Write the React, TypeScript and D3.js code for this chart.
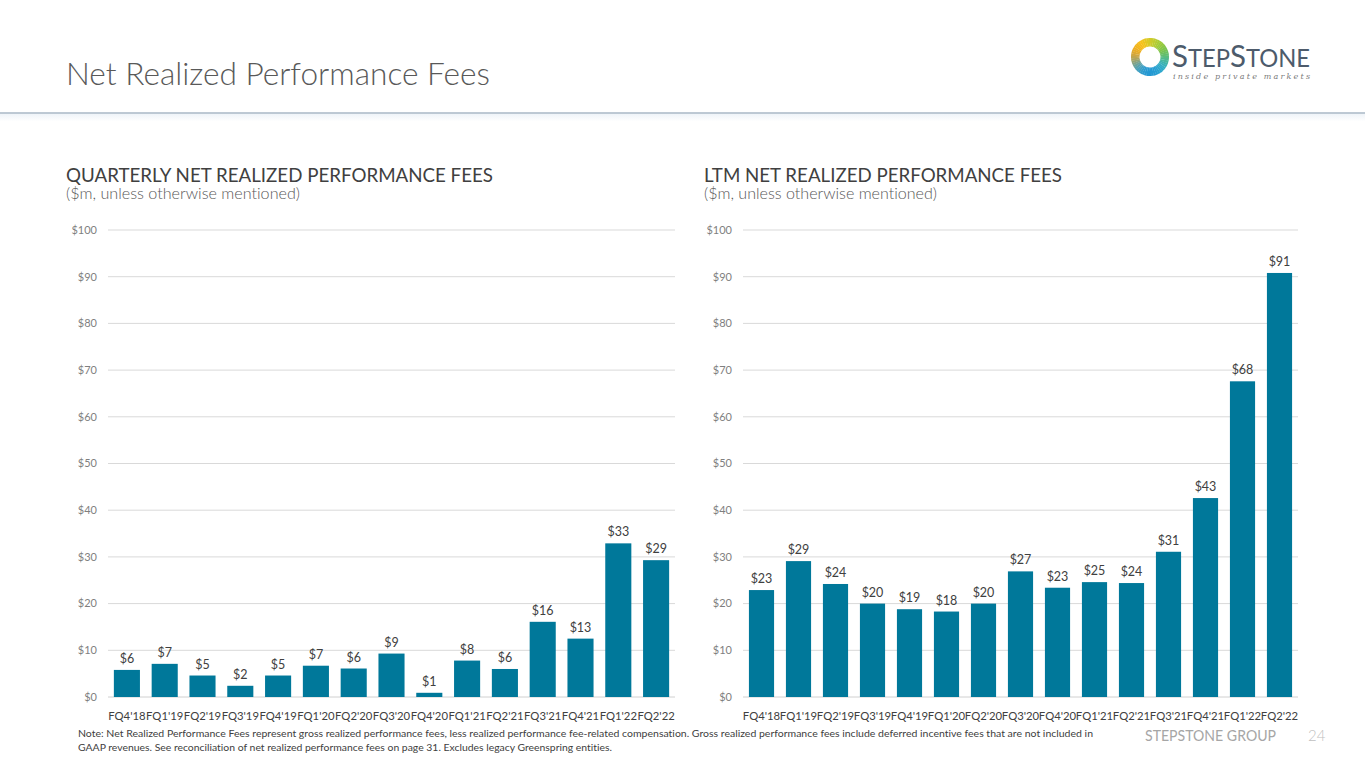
import React from "react";
import * as d3 from "d3";

const categories = ["FQ4'18", "FQ1'19", "FQ2'19", "FQ3'19", "FQ4'19", "FQ1'20", "FQ2'20", "FQ3'20", "FQ4'20", "FQ1'21", "FQ2'21", "FQ3'21", "FQ4'21", "FQ1'22", "FQ2'22"];
const quarterlyValues = [5.8, 7.1, 4.6, 2.4, 4.6, 6.7, 6.1, 9.3, 0.9, 7.8, 6.0, 16.1, 12.5, 32.9, 29.3];
const ltmValues = [22.9, 29.1, 24.2, 20.0, 18.8, 18.3, 20.0, 26.9, 23.4, 24.6, 24.4, 31.1, 42.6, 67.6, 90.8];
const yTicks = [0, 10, 20, 30, 40, 50, 60, 70, 80, 90, 100];

const FONT = "Lato, 'Open Sans', sans-serif";
const BAR = "#00789a";

type ChartProps = { values: number[]; x0: number; x1: number; padding: number };

function BarChart({ values, x0, x1, padding }: ChartProps) {
  const x = d3.scaleBand<string>().domain(categories).range([x0, x1]).paddingInner(padding).paddingOuter(padding / 2);
  const y = d3.scaleLinear().domain([0, 100]).range([697, 230]);
  return (
    <g>
      {yTicks.map((t) => (
        <g key={t}>
          <line x1={x0} x2={x1} y1={y(t)} y2={y(t)} stroke={t === 0 ? "#d0d0d0" : "#d9d9d9"} strokeWidth={1} />
          <text x={x0 - 11} y={y(t)} dy="0.35em" textAnchor="end" fontSize={11} fill="#7f7f7f" fontFamily={FONT}>
            {"$" + t}
          </text>
        </g>
      ))}
      {categories.map((c, i) => (
        <g key={c}>
          <rect x={x(c)} y={y(values[i])} width={x.bandwidth()} height={y(0) - y(values[i])} fill={BAR} />
          <text x={(x(c) as number) + x.bandwidth() / 2} y={y(values[i]) - 7} textAnchor="middle" fontSize={12.5} fill="#404040" fontFamily={FONT}>
            {"$" + Math.round(values[i])}
          </text>
          <text x={(x(c) as number) + x.bandwidth() / 2} y={720} textAnchor="middle" fontSize={11.3} fill="#404040" fontFamily={FONT}>
            {c}
          </text>
        </g>
      ))}
    </g>
  );
}

function Logo() {
  const cx = 1150, cy = 57;
  const n = 48;
  const color = d3.interpolateRgbBasis(["#f7c21a", "#b9d232", "#6cc04a", "#2fb3d6", "#1f8fd0", "#2fa6d8", "#f0a020", "#f7c21a"]);
  const arc = d3.arc<any>();
  const segs = d3.range(n).map((i) => ({
    d: arc({ innerRadius: 10.5, outerRadius: 19, startAngle: (i / n) * 2 * Math.PI - 0.6, endAngle: ((i + 1.1) / n) * 2 * Math.PI - 0.6 }) as string,
    c: color(i / n),
  }));
  return (
    <g>
      <g transform={`translate(${cx},${cy})`}>
        {segs.map((s, i) => (
          <path key={i} d={s.d} fill={s.c} />
        ))}
      </g>
      <text x={1172} y={67} fill="#4d5b6b" fontFamily={FONT} fontSize={25} textLength={138} lengthAdjust="spacingAndGlyphs">
        <tspan fontSize={31}>S</tspan>TEP<tspan fontSize={31}>S</tspan>TONE
      </text>
      <text x={1173} y={79} fill="#7a7a7a" fontFamily="'DejaVu Serif', serif" fontStyle="italic" fontSize={8} textLength={137} lengthAdjust="spacing">
        inside private markets
      </text>
    </g>
  );
}

export default function App() {
  return (
    <svg width={1365} height={768} style={{ position: "absolute", left: 0, top: 0, background: "#fff", fontVariantLigatures: "none" }}>
      <defs>
        <linearGradient id="hdr" x1="0" x2="0" y1="0" y2="1">
          <stop offset="0" stopColor="#eef3f8" />
          <stop offset="1" stopColor="#ffffff" />
        </linearGradient>
      </defs>
      <rect x={0} y={0} width={1365} height={768} fill="#fff" />
      <text x={66} y={85} fontSize={31} fontWeight={300} fill="#595959" fontFamily={FONT} textLength={424} lengthAdjust="spacingAndGlyphs">
        Net Realized Performance Fees
      </text>
      <rect x={0} y={113.5} width={1365} height={8} fill="url(#hdr)" />
      <line x1={0} x2={1365} y1={113} y2={113} stroke="#a9b7c6" strokeWidth={1.5} />
      <Logo />

      <text x={66} y={182} fontSize={19} fill="#404040" fontFamily={FONT} textLength={427} lengthAdjust="spacingAndGlyphs">
        QUARTERLY NET REALIZED PERFORMANCE FEES
      </text>
      <text x={66} y={199} fontSize={15} fontWeight={300} fill="#595959" fontFamily={FONT} textLength={234} lengthAdjust="spacingAndGlyphs">
        ($m, unless otherwise mentioned)
      </text>
      <text x={704} y={182} fontSize={19} fill="#404040" fontFamily={FONT} textLength={358} lengthAdjust="spacingAndGlyphs">
        LTM NET REALIZED PERFORMANCE FEES
      </text>
      <text x={704} y={199} fontSize={15} fontWeight={300} fill="#595959" fontFamily={FONT} textLength={233} lengthAdjust="spacingAndGlyphs">
        ($m, unless otherwise mentioned)
      </text>

      <BarChart values={quarterlyValues} x0={108} x1={675} padding={0.31} />
      <BarChart values={ltmValues} x0={743} x1={1298} padding={0.32} />

      <text x={78} y={737} fontSize={9.5} fill="#404040" fontFamily={FONT} textLength={1015} lengthAdjust="spacingAndGlyphs">
        Note: Net Realized Performance Fees represent gross realized performance fees, less realized performance fee-related compensation. Gross realized performance fees include deferred incentive fees that are not included in
      </text>
      <text x={78} y={751} fontSize={9.5} fill="#404040" fontFamily={FONT} textLength={534} lengthAdjust="spacingAndGlyphs">
        GAAP revenues. See reconciliation of net realized performance fees on page 31. Excludes legacy Greenspring entities.
      </text>
      <text x={1145} y={741} fontSize={15} fill="#a6a6a6" fontFamily={FONT} textLength={131} lengthAdjust="spacingAndGlyphs">
        STEPSTONE GROUP
      </text>
      <text x={1308} y={741} fontSize={15} fontWeight={300} fill="#bfbfbf" fontFamily={FONT}>
        24
      </text>
    </svg>
  );
}
